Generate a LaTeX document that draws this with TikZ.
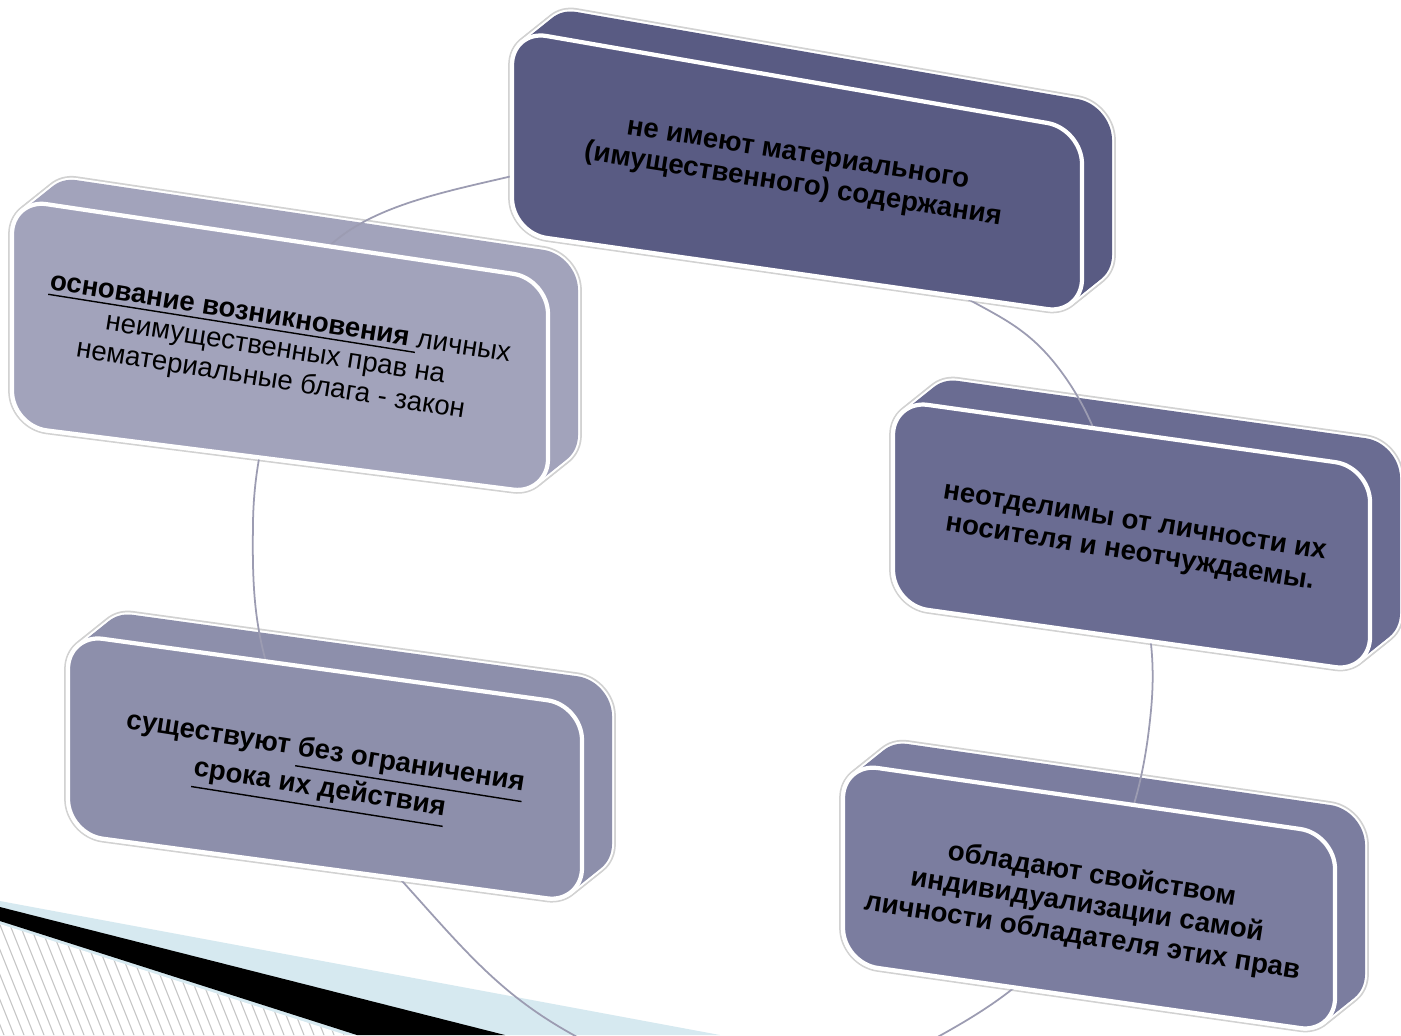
\documentclass[tikz,border=0pt]{standalone}
\usepackage{fontspec}
\setmainfont{Liberation Sans}
\usepackage{xcolor}
\usepackage{tikz}

\definecolor{slateTop}{HTML}{595B83}
\definecolor{slateLeft}{HTML}{A2A3BB}
\definecolor{slateRight}{HTML}{6A6C92}
\definecolor{slateLow}{HTML}{7B7D9F}
\definecolor{slateBottom}{HTML}{8D8FAB}
\definecolor{paleblue}{HTML}{D6E9F0}
\definecolor{ringgray}{HTML}{9C9CB2}

\begin{document}
\begin{tikzpicture}[x=0.01cm, y=-0.01cm,
    boxhalo/.style={draw=gray!35, line width=2.2pt, rounded corners=0.35cm},
    boxrim/.style={draw=white, line width=1.2pt, rounded corners=0.35cm},
    boxface/.style={draw=white, line width=1.2pt, rounded corners=0.35cm},
    boxtext/.style={align=center, rotate=-9, font=\fontsize{7.85}{8.9}\selectfont\bfseries}]

    \useasboundingbox (0,0) rectangle (1401,1035);
    \clip (0,0) rectangle (1401,1035);
    \fill[white] (0,0) rectangle (1401,1035);

    % Stripe in the lower left corner
    \fill[paleblue] (0,901) -- (720,1035) -- (0,1035) -- cycle;
    \begin{scope}
        \clip (0,924) -- (346,1035) -- (0,1035) -- cycle;
        \fill[white] (0,900) rectangle (400,1035);
        \foreach \hx in {-80,-70,...,360}
            \draw[gray!45, line width=0.3pt] (\hx,900) -- (\hx+60,1050);
    \end{scope}
    \fill[black] (0,907) -- (505,1035) -- (357,1035) -- (0,921) -- cycle;

    % Depth of the boxes: the face pushed back step by step
    \foreach \face/\tint in {
        {(512,30) -- (1082,129) -- (1082,314) -- (512,233) -- cycle}/slateTop,
        {(12,199) -- (548,279) -- (548,494) -- (12,426) -- cycle}/slateLeft,
        {(893,400) -- (1370,467) -- (1370,672) -- (893,605) -- cycle}/slateRight,
        {(843,763) -- (1335,834) -- (1335,1033) -- (843,963) -- cycle}/slateLow,
        {(68,634) -- (582,705) -- (582,903) -- (68,834) -- cycle}/slateBottom}
    {
        \foreach \k in {0,0.125,...,1}
            \path[boxhalo, shift={(30*\k,-24*\k)}] \face;
        \foreach \k in {0,0.125,...,1}
            \path[boxrim, shift={(30*\k,-24*\k)}] \face;
        \foreach \k in {0.125,0.25,...,1}
            \fill[\tint, rounded corners=0.35cm, shift={(30*\k,-24*\k)}] \face;
    }

    % Ring behind the front faces
    \draw[ringgray, line width=0.5pt] plot[smooth cycle, tension=0.7] coordinates {
        (508,177) (340,237) (290,345) (253,523) (285,715) (412,892) (570,1033)
        (760,1088) (950,1030) (1090,900) (1151,710) (1125,530) (1060,370)
        (940,283) (790,205) (650,165)};

    % Top box
    \draw[boxface, fill=slateTop] (512,30) -- (1082,129) -- (1082,314) -- (512,233) -- cycle;
    \node[boxtext] (nomatter) at (795,172) {не имеют материального\\(имущественного) содержания};

    % Left box
    \draw[boxface, fill=slateLeft] (12,199) -- (548,279) -- (548,494) -- (12,426) -- cycle;
    \node[boxtext, font=\fontsize{7.85}{8.9}\selectfont] (basis) at (275,352)
        {\underline{\textbf{основание возникновения }}личных\\неимущественных прав на\\нематериальные блага - закон};

    % Right box
    \draw[boxface, fill=slateRight] (893,400) -- (1370,467) -- (1370,672) -- (893,605) -- cycle;
    \node[boxtext] (inseparable) at (1132,540) {неотделимы от личности их\\носителя и неотчуждаемы.};

    % Lower right box
    \draw[boxface, fill=slateLow] (843,763) -- (1335,834) -- (1335,1033) -- (843,963) -- cycle;
    \node[boxtext] (individual) at (1087,906) {обладают свойством\\индивидуализации самой\\личности обладателя этих прав};

    % Lower left box
    \draw[boxface, fill=slateBottom] (68,634) -- (582,705) -- (582,903) -- (68,834) -- cycle;
    \node[boxtext] (unlimited) at (322,774) {существуют \underline{без ограничения}\\\underline{срока их действия}};

\end{tikzpicture}
\end{document}
